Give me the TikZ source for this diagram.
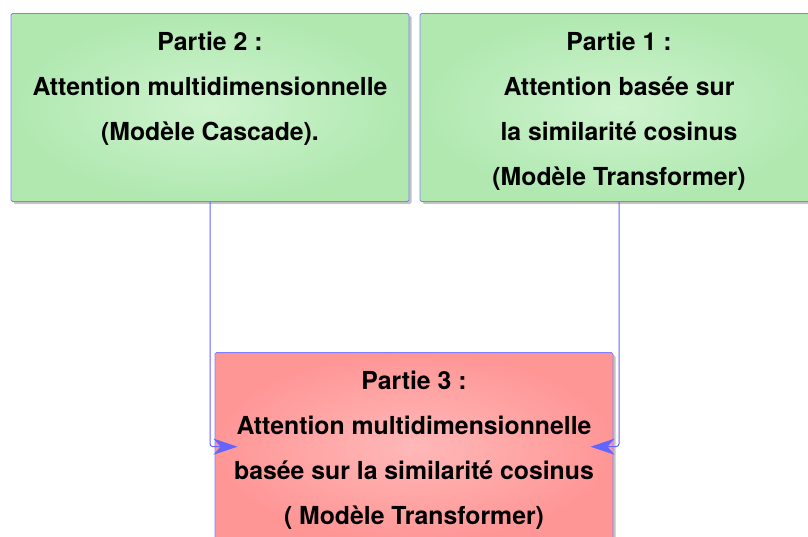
\documentclass[tikz,border=0pt]{standalone}
\usepackage{fontspec}
\setmainfont{TeX Gyre Heros}
\usetikzlibrary{arrows.meta,shadows}
\definecolor{frameblue}{RGB}{128,128,255}
\definecolor{linkblue}{RGB}{100,100,255}
\definecolor{greenin}{RGB}{206,243,206}
\definecolor{greenout}{RGB}{176,232,176}
\definecolor{redin}{RGB}{255,184,184}
\definecolor{redout}{RGB}{255,150,150}
\begin{document}
\begin{tikzpicture}[x=1pt,y=1pt,
  panel/.style={draw=frameblue, line width=0.9pt, rounded corners=1.5pt,
    minimum width=398pt, minimum height=188pt, inner sep=0pt,
    drop shadow={shadow xshift=2.5pt, shadow yshift=-2.5pt, fill=black!40, opacity=0.6}},
  greenpanel/.style={panel, inner color=greenin, outer color=greenout},
  redpanel/.style={panel, inner color=redin, outer color=redout},
  caption/.style={font=\bfseries\fontsize{24.8}{45}\selectfont, align=center,
    inner sep=0pt, anchor=north},
  link/.style={draw=linkblue, line width=1pt, rounded corners=3pt,
    -{Stealth[length=24pt,width=16pt,inset=7pt]}}
]
\clip (0,0) rectangle (808,537);

% the three parts
\node[greenpanel] (p2) at (210,429.5) {};
\node[greenpanel] (p1) at (619,429.5) {};
\node[redpanel]   (p3) at (414,90.3) {};

\node[caption] (t2) at (210,505.5) {Partie 2 :\\Attention multidimensionnelle\\(Modèle Cascade).};
\node[caption] (t1) at (619,505.5) {Partie 1 :\\Attention basée sur\\la similarité cosinus\\(Modèle Transformer)};
\node[caption] (t3) at (414,166.1) {Partie 3 :\\Attention multidimensionnelle\\basée sur la similarité cosinus\\( Modèle Transformer)};

% parts 1 and 2 feed part 3
\draw[link] (p2.south) |- ([xshift=23pt]p3.west);
\draw[link] (p1.south) |- ([xshift=-23pt]p3.east);
\end{tikzpicture}
\end{document}
